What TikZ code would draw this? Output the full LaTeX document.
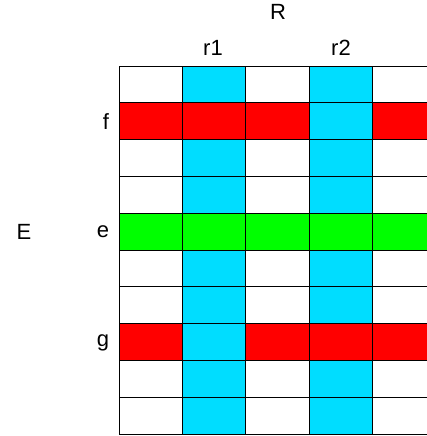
\documentclass[tikz,border=0pt]{standalone}
\usepackage{fontspec}
\setmainfont{Liberation Sans}
\definecolor{cy}{HTML}{00DDFF}
\definecolor{rd}{HTML}{FF0000}
\definecolor{gr}{HTML}{00FF00}
\begin{document}
\begin{tikzpicture}[x=1pt,y=-1pt,
  cell/.style={draw=black,line width=0.9pt},
  lab/.style={font=\fontsize{22}{26}\selectfont,inner sep=0pt}]
\useasboundingbox (0,0) rectangle (427,436);
\begin{scope}
\clip (0,0) rectangle (427,436);
\def\cw{63.35}
\def\rh{36.8}
\foreach \r in {0,...,9}{
  \foreach \c in {0,...,4}{
    \def\col{white}
    \ifnum\c=1 \def\col{cy}\fi
    \ifnum\c=3 \def\col{cy}\fi
    \ifnum\r=1 \ifnum\c=3 \else \def\col{rd}\fi\fi
    \ifnum\r=4 \def\col{gr}\fi
    \ifnum\r=7 \ifnum\c=1 \else \def\col{rd}\fi\fi
    \path[cell,fill=\col] ({119+\c*\cw},{66+\r*\rh}) rectangle ++(\cw,\rh);
  }
}
\end{scope}
\node[lab] (R) at (278,12) {R};
\node[lab] (r1) at (213,48) {r1};
\node[lab] (r2) at (341,48) {r2};
\node[lab] (f) at (106,122) {f};
\node[lab] (e) at (103,232) {e};
\node[lab] (g) at (103,343) {g};
\node[lab] (E) at (24,232) {E};
\end{tikzpicture}
\end{document}
